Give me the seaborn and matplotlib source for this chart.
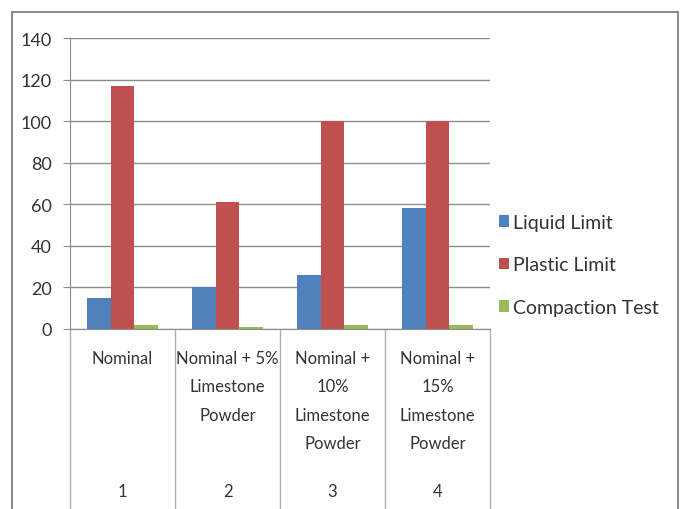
import pandas as pd
import seaborn as sns
import matplotlib.pyplot as plt
from matplotlib.patches import Rectangle
import matplotlib.transforms as mtransforms

# datos
grupos = ["Nominal", "Nominal + 5%\nLimestone\nPowder", "Nominal +\n10%\nLimestone\nPowder",
          "Nominal +\n15%\nLimestone\nPowder"]
numeros = ["1", "2", "3", "4"]
series = ["Liquid Limit", "Plastic Limit", "Compaction Test"]
liquid_limit = [15, 20, 26, 58]
plastic_limit = [117, 61, 100, 100]
compaction_test = [2, 1, 2, 2]
colores = ["#4F81BD", "#C0504D", "#9BBB59"]

filas = []
for serie, valores in zip(series, [liquid_limit, plastic_limit, compaction_test]):
    for g, v in zip(grupos, valores):
        filas.append({"grupo": g, "valor": v, "serie": serie})
df = pd.DataFrame(filas)

sns.set_style("white")
plt.rcParams["font.family"] = ["Lato", "DejaVu Sans"]

fig = plt.figure(figsize=(6.83, 5.10), dpi=100)
ax = fig.add_axes([70 / 683, 1 - 330 / 510, 420 / 683, 291 / 510])

sns.barplot(data=df, x="grupo", y="valor", hue="serie", palette=colores,
            width=0.67, gap=0, saturation=1, linewidth=0, ax=ax, legend=True)

ax.set_ylim(0, 140)
ax.set_xlim(-0.5, 3.5)
ax.set_yticks(range(0, 141, 20))
ax.yaxis.grid(True, color="#8c8c8c", linewidth=1)
ax.set_axisbelow(True)
ax.set_xlabel("")
ax.set_ylabel("")
for s in ["top", "right"]:
    ax.spines[s].set_visible(False)
for s in ["left", "bottom"]:
    ax.spines[s].set_color("#8c8c8c")
ax.tick_params(axis="y", left=True, length=5, color="#8c8c8c", labelsize=13,
               labelcolor="#333333", pad=8)
ax.set_xticks([])

# etiquetas de categoria en dos niveles
trans = mtransforms.blended_transform_factory(ax.transData, ax.transAxes)
for i, (g, n) in enumerate(zip(grupos, numeros)):
    ax.text(i, -21 / 291, g, transform=trans, ha="center", va="top",
            fontsize=12, color="#333333", linespacing=1.95)
    ax.text(i, -162 / 291, n, transform=trans, ha="center", va="center",
            fontsize=12, color="#333333")
for xb in [-0.5, 0.5, 1.5, 2.5, 3.5]:
    ax.plot([xb, xb], [0, -185 / 291], transform=trans, color="#b0b0b0",
            linewidth=1, clip_on=False)

leg = ax.legend(loc="center left", bbox_to_anchor=(0.98, 0.22), frameon=False,
                fontsize=14, handlelength=0.5, handleheight=0.55,
                handletextpad=0.2, labelspacing=1.3)
for t in leg.get_texts():
    t.set_color("#333333")

# marco exterior
fig.patches.append(Rectangle((12 / 683, -0.05), 666 / 683, 1.05 - 13 / 510,
                             transform=fig.transFigure, fill=False,
                             edgecolor="#8c8c8c", linewidth=1.5))

fig.savefig("out.png", dpi=100)
